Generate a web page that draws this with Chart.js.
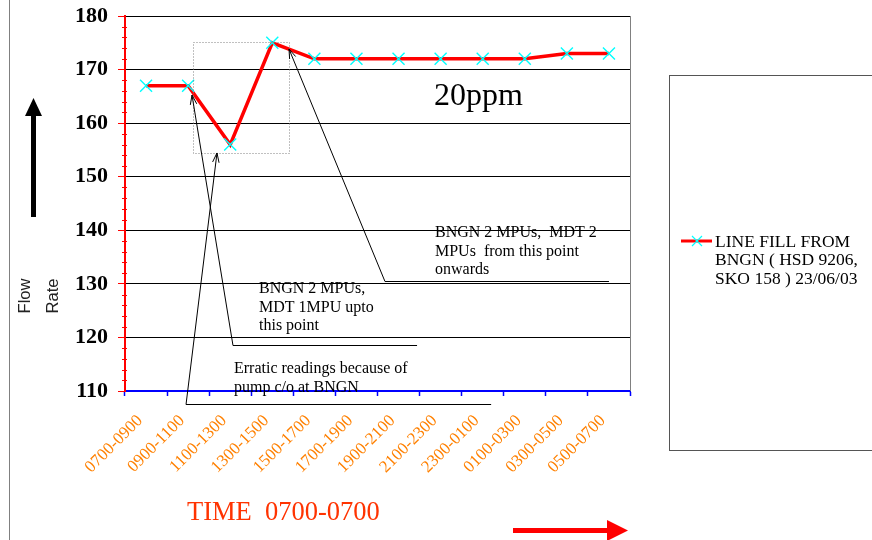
<!DOCTYPE html>
<html>
<head>
<meta charset="utf-8">
<script src="https://cdn.jsdelivr.net/npm/chart.js@4.4.0/dist/chart.umd.min.js"></script>
<style>
  html, body { margin: 0; padding: 0; background: #fff; }
  canvas { display: block; }
</style>
</head>
<body>
<canvas id="c" width="872" height="540"></canvas>
<script>
// Two-hourly time slots over one day (07:00 to 07:00)
const timeSlots = ['0700-0900', '0900-1100', '1100-1300', '1300-1500', '1500-1700', '1700-1900',
                   '1900-2100', '2100-2300', '2300-0100', '0100-0300', '0300-0500', '0500-0700'];
// Line fill flow rate for each slot
const flowRate = [167, 167, 156, 175, 172, 172, 172, 172, 172, 172, 173, 173];
// Value axis range and step
const yMin = 110;
const yMax = 180;
const yStep = 10;
// Series name as shown in the legend box
const seriesLabel = ['LINE FILL FROM', 'BNGN ( HSD 9206,', 'SKO 158 ) 23/06/03'];
const axisTitleX = 'TIME  0700-0700';
const axisTitleY = ['Flow', 'Rate'];
const concentrationNote = '20ppm';

// Callout notes, placed in axis units (category index, flow value)
const callouts = [
  { lines: ['Erratic readings because of', 'pump c/o at BNGN'], at: [2.09, 114.1],
    tip: [1.686, 154.43], tail: [0.95, 107.57], underlineTo: 8.2 },
  { lines: ['BNGN 2 MPUs,', 'MDT 1MPU upto', 'this point'], at: [2.684, 129.04],
    tip: [1.092, 165.25], tail: [2.066, 118.59], underlineTo: 6.44 },
  { lines: ['BNGN 2 MPUs,  MDT 2', 'MPUs  from this point', 'onwards'], at: [6.866, 139.49],
    tip: [3.397, 173.84], tail: [5.678, 130.53], underlineTo: 11.0 }
];
// Dotted box around the erratic section
const erraticBox = { from: [1.116, 175.15], to: [3.397, 154.43] };
const notePos = [6.84, 163.4];

const SERIF = '"Liberation Serif", "Times New Roman", serif';
const SANS = '"Liberation Sans", Arial, sans-serif';

function toPx(chart, p) {
  return [chart.scales.x.getPixelForValue(p[0]), chart.scales.y.getPixelForValue(p[1])];
}

function arrowHead(ctx, x0, y0, x1, y1) {
  const ang = Math.atan2(y1 - y0, x1 - x0);
  const len = 10, spread = 0.33;
  ctx.beginPath();
  ctx.moveTo(x1 - len * Math.cos(ang - spread), y1 - len * Math.sin(ang - spread));
  ctx.lineTo(x1, y1);
  ctx.lineTo(x1 - len * Math.cos(ang + spread), y1 - len * Math.sin(ang + spread));
  ctx.stroke();
}

const decorations = {
  id: 'decorations',
  beforeDatasetsDraw(chart) {
    const ctx = chart.ctx;
    const a = chart.chartArea;
    ctx.save();
    // plot frame on the right
    ctx.strokeStyle = '#808080';
    ctx.lineWidth = 1;
    ctx.beginPath();
    ctx.moveTo(Math.round(a.right) + 0.5, a.top);
    ctx.lineTo(Math.round(a.right) + 0.5, a.bottom);
    ctx.stroke();
    // minor ticks on the value axis
    ctx.strokeStyle = '#FF0000';
    ctx.lineWidth = 1;
    for (let v = yMin; v <= yMax; v += 2) {
      if ((v - yMin) % yStep === 0) continue;
      const y = Math.round(chart.scales.y.getPixelForValue(v)) + 0.5;
      ctx.beginPath();
      ctx.moveTo(a.left - 3, y);
      ctx.lineTo(a.left + 2, y);
      ctx.stroke();
    }
    // slot labels, slanted under each category
    ctx.fillStyle = '#FF8000';
    ctx.font = '17px ' + SERIF;
    ctx.textAlign = 'right';
    ctx.textBaseline = 'middle';
    timeSlots.forEach((s, i) => {
      ctx.save();
      ctx.translate(chart.scales.x.getPixelForValue(i) - 6, a.bottom + 27);
      ctx.rotate(-Math.PI / 4);
      ctx.fillText(s, 0, 0);
      ctx.restore();
    });
    ctx.restore();
  },
  afterDraw(chart) {
    const ctx = chart.ctx;
    const a = chart.chartArea;
    ctx.save();

    // outer frame edge on the left
    ctx.strokeStyle = '#808080';
    ctx.lineWidth = 1;
    ctx.beginPath();
    ctx.moveTo(9.5, 0);
    ctx.lineTo(9.5, 540);
    ctx.stroke();

    // dotted box
    const b0 = toPx(chart, erraticBox.from), b1 = toPx(chart, erraticBox.to);
    ctx.strokeStyle = '#808080';
    ctx.setLineDash([1, 2]);
    ctx.strokeRect(Math.round(b0[0]) + 0.5, Math.round(b0[1]) + 0.5, Math.round(b1[0] - b0[0]), Math.round(b1[1] - b0[1]));
    ctx.setLineDash([]);

    // callouts
    ctx.strokeStyle = '#000';
    ctx.lineWidth = 1;
    ctx.fillStyle = '#000';
    ctx.font = '16px ' + SERIF;
    ctx.textBaseline = 'middle';
    ctx.textAlign = 'left';
    callouts.forEach(c => {
      const tip = toPx(chart, c.tip), tail = toPx(chart, c.tail);
      const endX = chart.scales.x.getPixelForValue(c.underlineTo);
      ctx.beginPath();
      ctx.moveTo(endX, Math.round(tail[1]) + 0.5);
      ctx.lineTo(tail[0], Math.round(tail[1]) + 0.5);
      ctx.lineTo(tip[0], tip[1]);
      ctx.stroke();
      arrowHead(ctx, tail[0], tail[1], tip[0], tip[1]);
      const t = toPx(chart, c.at);
      c.lines.forEach((ln, i) => ctx.fillText(ln, t[0], t[1] + i * 18.5));
    });

    // concentration note
    const n = toPx(chart, notePos);
    ctx.font = '32px ' + SERIF;
    ctx.textBaseline = 'alphabetic';
    ctx.fillText(concentrationNote, n[0], n[1]);

    // axis titles
    ctx.fillStyle = '#FF3300';
    ctx.font = '26.5px ' + SERIF;
    ctx.fillText(axisTitleX, a.left + 62, 520);

    ctx.fillStyle = '#222';
    ctx.font = '16.5px ' + SANS;
    ctx.textAlign = 'center';
    ctx.textBaseline = 'middle';
    [[25, axisTitleY[0]], [53, axisTitleY[1]]].forEach(([x, s]) => {
      ctx.save();
      ctx.translate(x, 296);
      ctx.rotate(-Math.PI / 2);
      ctx.fillText(s, 0, 0);
      ctx.restore();
    });

    // up arrow beside value axis
    ctx.fillStyle = '#000';
    ctx.fillRect(31, 113, 5, 104);
    ctx.beginPath();
    ctx.moveTo(33.5, 98);
    ctx.lineTo(42, 116);
    ctx.lineTo(25, 116);
    ctx.closePath();
    ctx.fill();

    // right arrow under time axis
    ctx.fillStyle = '#FF0000';
    ctx.fillRect(513, 528, 96, 5);
    ctx.beginPath();
    ctx.moveTo(628, 530.5);
    ctx.lineTo(607, 520);
    ctx.lineTo(607, 541);
    ctx.closePath();
    ctx.fill();

    // legend box
    ctx.strokeStyle = '#555';
    ctx.lineWidth = 1;
    ctx.strokeRect(669.5, 75.5, 260, 375);
    ctx.strokeStyle = '#FF0000';
    ctx.lineWidth = 3;
    ctx.beginPath();
    ctx.moveTo(681, 241);
    ctx.lineTo(712, 241);
    ctx.stroke();
    ctx.strokeStyle = '#00FFFF';
    ctx.lineWidth = 1.2;
    ctx.beginPath();
    ctx.moveTo(692, 236); ctx.lineTo(702, 246);
    ctx.moveTo(702, 236); ctx.lineTo(692, 246);
    ctx.stroke();
    ctx.fillStyle = '#000';
    ctx.font = '17.5px ' + SERIF;
    ctx.textAlign = 'left';
    seriesLabel.forEach((s, i) => ctx.fillText(s, 715, 242 + i * 18.5));

    ctx.restore();
  }
};

new Chart(document.getElementById('c'), {
  type: 'line',
  data: {
    labels: timeSlots,
    datasets: [{
      label: seriesLabel.join(' '),
      data: flowRate,
      borderColor: '#FF0000',
      borderWidth: 3.5,
      tension: 0,
      pointStyle: 'crossRot',
      pointRadius: 8.5,
      pointBorderColor: '#00FFFF',
      pointBorderWidth: 1.4,
      pointBackgroundColor: '#00FFFF',
      fill: false
    }]
  },
  options: {
    responsive: false,
    animation: false,
    devicePixelRatio: 1,
    layout: { padding: { top: 16, right: 242, left: 0, bottom: 0 } },
    plugins: { legend: { display: false }, tooltip: { enabled: false }, title: { display: false } },
    scales: {
      x: {
        offset: true,
        afterFit(scale) {
          scale.height = 149;
          scale.paddingLeft = 0; scale.paddingRight = 0;
        },
        grid: { offset: true, drawOnChartArea: false, tickLength: 5, tickColor: '#0000FF', tickWidth: 1.5 },
        border: { color: '#0000FF', width: 2 },
        ticks: { display: false, autoSkip: false }
      },
      y: {
        min: yMin, max: yMax,
        afterFit(scale) {
          scale.width = 125;
          scale.paddingTop = 0; scale.paddingBottom = 0;
        },
        grid: { color: '#000', lineWidth: 1, tickLength: 7, tickColor: '#FF0000' },
        border: { color: '#FF0000', width: 2 },
        ticks: {
          stepSize: yStep,
          color: '#000',
          padding: 10,
          font: { family: SERIF, size: 22, weight: 'bold' }
        }
      }
    }
  },
  plugins: [decorations]
});
</script>
</body>
</html>
